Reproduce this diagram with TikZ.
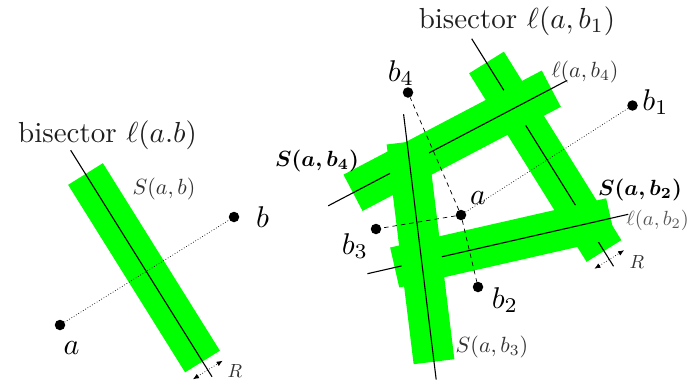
\documentclass[tikz,border=0pt]{standalone}
\usetikzlibrary{calc,arrows.meta}
\definecolor{stripgreen}{RGB}{0,255,0}
\tikzset{
  stripband/.style={line width=41pt, stripgreen},
  bisline/.style={line width=1.1pt, black},
  pt/.style={circle, fill=black, inner sep=0pt, minimum size=10.5pt},
  dotline/.style={line width=0.7pt, dotted},
  dashline/.style={line width=0.7pt, dash pattern=on 4.5pt off 4pt},
  rarrow/.style={line width=0.7pt, dotted, {Latex[length=6pt,width=5pt]}-{Latex[length=6pt,width=5pt]}},
  biglab/.style={inner sep=0pt, scale=2.9, text=black!88},
  ptlab/.style={inner sep=0pt, scale=3.0},
  smalllab/.style={inner sep=0pt, scale=2.2, text=black!80},
  graylab/.style={inner sep=0pt, scale=2.05, text=black!65},
  boldlab/.style={inner sep=0pt, scale=2.2, font=\boldmath},
  rlab/.style={inner sep=0pt, scale=1.9, text=black!80}
}
\begin{document}
\begin{tikzpicture}[x=1pt,y=-1pt]
\useasboundingbox (0,0) rectangle (689,383);
% ---------- left figure ----------
\coordinate (S0) at (85.5,174);
\coordinate (E0) at (202.5,361.5);
\draw[stripband] (S0) -- (E0);
\draw[bisline] ($(S0)!-28pt!(E0)$) -- ($(E0)!-18pt!(S0)$);
\coordinate (M0) at ($(E0)!-10pt!(S0)$);
\draw[rarrow] ($(M0)!17.5pt!90:(E0)$) -- ($(M0)!17.5pt!-90:(E0)$);
\node[pt] (a0) at (60,325) {};
\node[pt] (b0) at (234,217) {};
\draw[dotline] (a0) -- (b0);
\node[biglab] (t0) at (107.5,135) {bisector $\ell(a.b)$};
\node[smalllab] (s0) at (164,188.5) {$S(a,b)$};
\node[ptlab] (la0) at (71.5,348) {$a$};
\node[ptlab] (lb0) at (262.5,217.5) {$b$};
\node[rlab] (r0) at (235,371.5) {$R$};
% ---------- right figure ----------
\coordinate (S1) at (486.5,62.5);
\coordinate (E1) at (604,251);
\coordinate (S2) at (394.7,267.5);
\coordinate (E2) at (610.7,218.3);
\coordinate (S3) at (407,142);
\coordinate (E3) at (434,361.7);
\coordinate (S4) at (353,192.8);
\coordinate (E4) at (551.3,88.7);
\draw[stripband] (S1) -- (E1);
\draw[bisline] ($(S1)!-28pt!(E1)$) -- ($(E1)!-18pt!(S1)$);
\draw[stripband] (S2) -- (E2);
\draw[bisline] ($(S2)!-28pt!(E2)$) -- ($(E2)!-18pt!(S2)$);
\draw[stripband] (S4) -- (E4);
\draw[bisline] ($(S4)!-28pt!(E4)$) -- ($(E4)!-18pt!(S4)$);
\draw[stripband] (S3) -- (E3);
\draw[bisline] ($(S3)!-28pt!(E3)$) -- ($(E3)!-18pt!(S3)$);
\coordinate (M1) at ($(E1)!-10pt!(S1)$);
\draw[rarrow] ($(M1)!17.5pt!90:(E1)$) -- ($(M1)!17.5pt!-90:(E1)$);
\node[pt] (a) at (461,215) {};
\node[pt] (b1) at (632.5,105.5) {};
\node[pt] (b2) at (478,287) {};
\node[pt] (b3) at (376,229) {};
\node[pt] (b4) at (408,92.5) {};
\draw[dotline] (a) -- (b1);
\draw[dashline] (a) -- (b2);
\draw[dashline] (a) -- (b3);
\draw[dashline] (a) -- (b4);
\node[biglab] (t1) at (517,21) {bisector $\ell(a,b_1)$};
\node[smalllab] (l4) at (585,72) {$\ell(a,b_4)$};
\node[boldlab] (s4) at (317,161) {$S(a,b_4)$};
\node[boldlab] (s2) at (640,190) {$S(a,b_2)$};
\node[graylab, anchor=west] (l2) at (626,220) {$\ell(a,b_2)$};
\node[smalllab] (s3) at (492,347) {$S(a,b_3)$};
\node[ptlab] (la) at (478,198) {$a$};
\node[ptlab] (lb1) at (655.5,102) {$b_1$};
\node[ptlab] (lb2) at (505,300) {$b_2$};
\node[ptlab] (lb3) at (355,246) {$b_3$};
\node[ptlab] (lb4) at (401,73) {$b_4$};
\node[rlab] (r1) at (637,262) {$R$};
\end{tikzpicture}
\end{document}
